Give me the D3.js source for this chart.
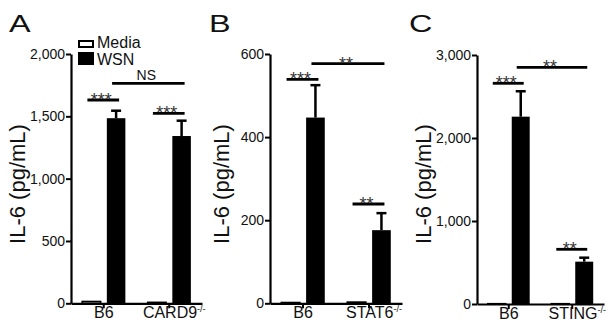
<!DOCTYPE html>
<html>
<head>
<meta charset="utf-8">
<script src="https://cdn.jsdelivr.net/npm/d3@7"></script>
<style>
  body { margin: 0; background: #fff; }
  svg { display: block; font-family: Arial, "Liberation Sans", Helvetica, sans-serif; }
</style>
</head>
<body>
<svg id="fig" width="615" height="330"></svg>
<script>
// values (IL-6, pg/mL)
var subgroups = ["Media", "WSN"];

var groupsA = ["B6", "CARD9"];
var mediaA = [15, 8];
var wsnA = [1485, 1342];
var errA = [60, 123];
var ticksA = [0, 500, 1000, 1500, 2000];
var sigA = [
    {from: [0, "Media"], to: [0, "WSN"], y: 1631, txt: "***"},
    {from: [1, "Media"], to: [1, "WSN"], y: 1524, txt: "***"},
    {from: [0, "WSN"], to: [1, "WSN"], y: 1765, txt: "NS"}
];

var groupsB = ["B6", "STAT6"];
var mediaB = [2, 3];
var wsnB = [447, 176];
var errB = [78, 41];
var ticksB = [0, 200, 400, 600];
var sigB = [
    {from: [0, "Media"], to: [0, "WSN"], y: 539, txt: "***"},
    {from: [1, "Media"], to: [1, "WSN"], y: 239, txt: "**"},
    {from: [0, "WSN"], to: [1, "WSN"], y: 577, txt: "**"}
];

var groupsC = ["B6", "STING"];
var mediaC = [4, 4];
var wsnC = [2257, 510];
var errC = [306, 48];
var ticksC = [0, 1000, 2000, 3000];
var sigC = [
    {from: [0, "Media"], to: [0, "WSN"], y: 2659, txt: "***"},
    {from: [1, "Media"], to: [1, "WSN"], y: 659, txt: "**"},
    {from: [0, "WSN"], to: [1, "WSN"], y: 2852, txt: "**"}
];

var svg = d3.select("#fig");

// panel layout (pixels)
var panels = [
    {letter: "A", lx: 9, x0: 71, x1: 202, yTop: 54, yBot: 303.3, labX: 25,
     groups: groupsA, media: mediaA, wsn: wsnA, err: errA, ticks: ticksA, sig: sigA, legend: true},
    {letter: "B", lx: 209, x0: 270, x1: 402, yTop: 54, yBot: 303.3, labX: 229,
     groups: groupsB, media: mediaB, wsn: wsnB, err: errB, ticks: ticksB, sig: sigB, legend: false},
    {letter: "C", lx: 409, x0: 477, x1: 604, yTop: 55, yBot: 304, labX: 431,
     groups: groupsC, media: mediaC, wsn: wsnC, err: errC, ticks: ticksC, sig: sigC, legend: false}
];

panels.forEach(drawPanel);

function drawPanel(p) {
    var g = svg.append("g");

    var y = d3.scaleLinear()
        .domain([0, d3.max(p.ticks)])
        .range([p.yBot, p.yTop]);

    var xo = d3.scaleBand()
        .domain(p.groups)
        .range([p.x0, p.x1])
        .paddingInner(0.34)
        .paddingOuter(0.17);

    var xi = d3.scaleBand()
        .domain(subgroups)
        .range([0, xo.bandwidth()])
        .paddingInner(0.25);

    function cx(ref) {
        return xo(p.groups[ref[0]]) + xi(ref[1]) + xi.bandwidth() / 2;
    }

    // bars
    p.groups.forEach(function(grp, i) {
        var vals = {Media: p.media[i], WSN: p.wsn[i]};
        subgroups.forEach(function(s) {
            g.append("rect")
                .attr("x", xo(grp) + xi(s))
                .attr("y", y(vals[s]))
                .attr("width", xi.bandwidth())
                .attr("height", y(0) - y(vals[s]))
                .attr("fill", s == "WSN" ? "#000" : "#fff")
                .attr("stroke", "#000")
                .attr("stroke-width", s == "WSN" ? 0 : 1.5);
        });
        // error bar (upper only)
        var c = cx([i, "WSN"]);
        g.append("line")
            .attr("x1", c).attr("x2", c)
            .attr("y1", y(p.wsn[i])).attr("y2", y(p.wsn[i] + p.err[i]))
            .attr("stroke", "#000").attr("stroke-width", 2.5);
        g.append("line")
            .attr("x1", c - 5).attr("x2", c + 5)
            .attr("y1", y(p.wsn[i] + p.err[i])).attr("y2", y(p.wsn[i] + p.err[i]))
            .attr("stroke", "#000").attr("stroke-width", 2.5);
    });

    // y axis
    var yAxis = d3.axisLeft(y)
        .tickValues(p.ticks)
        .tickFormat(d3.format(","))
        .tickSize(5)
        .tickSizeOuter(0)
        .tickPadding(1);

    var ya = g.append("g")
        .attr("transform", "translate(" + p.x0 + ",0)")
        .call(yAxis);
    ya.select(".domain").attr("stroke-width", 2.2);
    ya.selectAll(".tick line").attr("stroke-width", 2);
    ya.selectAll(".tick text")
        .attr("font-size", 14)
        .attr("font-family", null)
        .attr("fill", "#111");

    // x axis
    var xAxis = d3.axisBottom(xo)
        .tickSize(5)
        .tickSizeOuter(0)
        .tickFormat("");

    var xa = g.append("g")
        .attr("transform", "translate(0," + p.yBot + ")")
        .call(xAxis);
    xa.select(".domain").attr("stroke-width", 2.2);
    xa.selectAll(".tick line").attr("stroke-width", 2);

    // category labels, knockout ones get a -/- superscript
    p.groups.forEach(function(grp, i) {
        var t = g.append("text")
            .attr("y", p.yBot + 15)
            .attr("font-size", 16)
            .attr("fill", "#111")
            .attr("text-anchor", "middle");
        if (i == 0) {
            t.attr("x", xo(grp) + xo.bandwidth() / 2).text(grp);
        } else {
            t.attr("x", xo(grp) + xo.bandwidth() / 2 + 5);
            t.append("tspan").text(grp);
            t.append("tspan").attr("font-size", 9).attr("dy", -6).text("-/-");
        }
    });

    // y label
    g.append("text")
        .attr("transform", "translate(" + p.labX + ",184) rotate(-90)")
        .attr("text-anchor", "middle")
        .attr("font-size", 22)
        .attr("fill", "#111")
        .text("IL-6 (pg/mL)");

    // panel letter
    g.append("text")
        .attr("transform", "translate(" + p.lx + ",32) scale(1.35,1)")
        .attr("font-size", 24)
        .attr("fill", "#111")
        .text(p.letter);

    // significance bars
    p.sig.forEach(function(s) {
        var xa1 = cx(s.from) - 4, xa2 = cx(s.to) + 3, yy = y(s.y);
        g.append("line")
            .attr("x1", xa1).attr("x2", xa2)
            .attr("y1", yy).attr("y2", yy)
            .attr("stroke", "#000").attr("stroke-width", 2.8);
        if (s.txt == "NS") {
            g.append("text")
                .attr("x", (xa1 + xa2) / 2 - 2).attr("y", yy - 3)
                .attr("text-anchor", "middle")
                .attr("font-size", 14)
                .attr("fill", "#111")
                .text(s.txt);
        } else {
            g.append("text")
                .attr("x", (xa1 + xa2) / 2 - 2).attr("y", yy + 6)
                .attr("text-anchor", "middle")
                .attr("font-size", 18)
                .attr("fill", "#333")
                .text(s.txt);
        }
    });

    // legend
    if (p.legend) {
        var lg = g.append("g");
        subgroups.forEach(function(s, i) {
            lg.append("rect")
                .attr("x", 79).attr("y", i == 0 ? 41 : 53)
                .attr("width", 14).attr("height", i == 0 ? 6 : 11)
                .attr("fill", s == "WSN" ? "#000" : "#fff")
                .attr("stroke", "#000").attr("stroke-width", 2);
            lg.append("text")
                .attr("x", 97).attr("y", i == 0 ? 48 : 65)
                .attr("font-size", 16)
                .attr("fill", "#111")
                .text(s);
        });
    }
}
</script>
</body>
</html>
